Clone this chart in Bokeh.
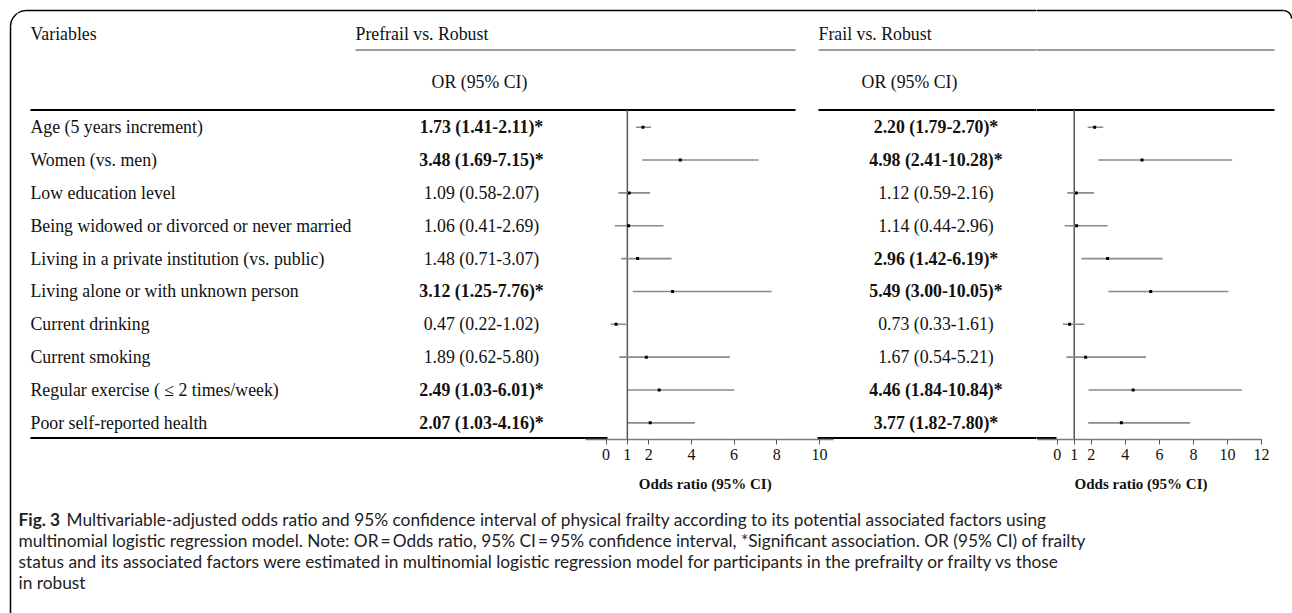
import math
from bokeh.plotting import figure
from bokeh.models import Range1d, LinearAxis, FixedTicker, ColumnDataSource
from bokeh.layouts import row, column
from bokeh.core.properties import value, field
from bokeh.embed import file_html
from bokeh.resources import INLINE

# ---------------- data ----------------
variables = [
    "Age (5 years increment)",
    "Women (vs. men)",
    "Low education level",
    "Being widowed or divorced or never married",
    "Living in a private institution (vs. public)",
    "Living alone or with unknown person",
    "Current drinking",
    "Current smoking",
    "Regular exercise ( \u2264 2  times/week)",
    "Poor self-reported health",
]
prefrail_or = [1.73, 3.48, 1.09, 1.06, 1.48, 3.12, 0.47, 1.89, 2.49, 2.07]
prefrail_lo = [1.41, 1.69, 0.58, 0.41, 0.71, 1.25, 0.22, 0.62, 1.03, 1.03]
prefrail_hi = [2.11, 7.15, 2.07, 2.69, 3.07, 7.76, 1.02, 5.80, 6.01, 4.16]
prefrail_sig = [True, True, False, False, False, True, False, False, True, True]

frail_or = [2.20, 4.98, 1.12, 1.14, 2.96, 5.49, 0.73, 1.67, 4.46, 3.77]
frail_lo = [1.79, 2.41, 0.59, 0.44, 1.42, 3.00, 0.33, 0.54, 1.84, 1.82]
frail_hi = [2.70, 10.28, 2.16, 2.96, 6.19, 10.05, 1.61, 5.21, 10.84, 7.80]
frail_sig = [True, True, False, False, True, True, False, False, True, True]

prefrail_ticks = [0, 1, 2, 4, 6, 8, 10]
frail_ticks = [0, 1, 2, 4, 6, 8, 10, 12]
null_or = 1

header_variables = "Variables"
header_prefrail = "Prefrail vs. Robust"
header_frail = "Frail vs. Robust"
header_or = "OR (95% CI)"
axis_title = "Odds ratio (95% CI)"
caption_bold = "Fig. 3"
caption_lines = [
    "Multivariable-adjusted odds ratio and 95% confidence interval of physical frailty according to its potential associated factors using",
    "multinomial logistic regression model. Note: OR\u2009=\u2009Odds ratio, 95% CI\u2009=\u200995% confidence interval, *Significant association. OR (95% CI) of frailty",
    "status and its associated factors were estimated in multinomial logistic regression model for participants in the prefrailty or frailty vs those",
    "in robust",
]

# ---------------- layout (page pixels) ----------------
SERIF = value("Liberation Serif")
SANS = value("Lato")
BODY_FS = "17.8px"
PAGE_L, PAGE_R = 0, 1292
BORDER_R = 17
TOP, AXIS_Y, BOTTOM = 0, 439, 613
SPLIT = 1036
AXIS_PANEL = 30
ROW0, ROWSTEP = 126.7, 32.85

# forest scales: page px = zero + per_unit * OR
F1_ZERO, F1_UNIT = 605.5, 21.35
F2_ZERO, F2_UNIT = 1056.7, 17.03

row_y = [ROW0 + i * ROWSTEP for i in range(len(variables))]


def label(o, l, h, s):
    return f"{o:.2f} ({l:.2f}-{h:.2f})" + ("*" if s else "")


def base_fig(x0, x1, ybot, ytop, mb_bottom=0):
    p = figure(
        x_range=Range1d(x0, x1), y_range=Range1d(ybot, ytop),
        frame_width=int(round(x1 - x0)), frame_height=int(round(ybot - ytop)),
        x_axis_type=None, y_axis_type=None,
        toolbar_location=None, output_backend="svg",
        min_border=0, min_border_left=0, min_border_right=0, min_border_top=0,
        min_border_bottom=mb_bottom,
        outline_line_color=None,
        background_fill_color="white", border_fill_color="white",
    )
    return p


def decorations(p):
    # outer rounded frame
    r1 = 16
    p.arc(x=[10 + r1], y=[10 + r1], radius=r1, start_angle=math.pi / 2,
          end_angle=math.pi, direction="anticlock", line_color="black", line_width=1.5)
    r2 = 8
    p.arc(x=[1283], y=[10 + r2], radius=r2, start_angle=0,
          end_angle=math.pi / 2, direction="anticlock", line_color="black", line_width=1.5)
    p.segment(x0=[10 + r1], x1=[1283], y0=[10], y1=[10], line_color="black", line_width=1.5)
    p.segment(x0=[10], x1=[10], y0=[10 + r1], y1=[BOTTOM], line_color="black", line_width=1.5)
    # table rules
    p.segment(x0=[355, 818], x1=[795, 1274], y0=[49.5, 49.5], y1=[49.5, 49.5],
              line_color="#3a3a3a", line_width=1)
    p.segment(x0=[30, 818], x1=[795, 1274], y0=[109.5, 109.5], y1=[109.5, 109.5],
              line_color="black", line_width=2)
    p.segment(x0=[30, 817], x1=[607, 1056], y0=[437.5, 437.5], y1=[437.5, 437.5],
              line_color="black", line_width=2)


def forest(p, rng_name, ors, los, his):
    src = ColumnDataSource(dict(o=ors, lo=los, hi=his, y=row_y))
    p.segment(x0=[null_or], x1=[null_or], y0=[109.5], y1=[AXIS_Y], x_range_name=rng_name,
              line_color="#555555", line_width=1.5)
    p.segment(x0="lo", x1="hi", y0="y", y1="y", source=src, x_range_name=rng_name,
              line_color="#8a8a8a", line_width=1.6)
    p.scatter(x="o", y="y", source=src, x_range_name=rng_name, marker="square",
              size=3, fill_color="black", line_color=None)


def add_axis(p, rng_name, ticks, bounds):
    ax = LinearAxis(x_range_name=rng_name, ticker=FixedTicker(ticks=ticks, minor_ticks=[]),
                    bounds=bounds)
    ax.axis_line_color = "#7a7a7a"
    ax.axis_line_width = 1.3
    ax.major_tick_line_color = "#555555"
    ax.major_tick_in = 0
    ax.major_tick_out = 5
    ax.minor_tick_line_color = None
    ax.major_label_text_font = "Liberation Serif"
    ax.major_label_text_font_size = "16px"
    ax.major_label_text_color = "#111111"
    ax.major_label_standoff = 4
    p.add_layout(ax, "below")


# ---------------- border strip ----------------
pb = base_fig(PAGE_L, BORDER_R, BOTTOM, TOP)
decorations(pb)

# ---------------- left table + prefrail forest ----------------
pl = base_fig(BORDER_R, SPLIT, AXIS_Y, TOP, AXIS_PANEL)
pl.extra_x_ranges = {"f1": Range1d((BORDER_R - F1_ZERO) / F1_UNIT, (SPLIT - F1_ZERO) / F1_UNIT)}
decorations(pl)

pl.text(x=[30, 355, 818], y=[33, 33, 33], text=[header_variables, header_prefrail, header_frail],
        text_font=SERIF, text_font_size=BODY_FS, text_align="left", text_baseline="middle",
        text_color="#111111")
pl.text(x=[479, 909], y=[81.7, 81.7], text=[header_or, header_or],
        text_font=SERIF, text_font_size=BODY_FS, text_align="center", text_baseline="middle",
        text_color="#111111")

var_src = ColumnDataSource(dict(x=[30] * len(variables), y=row_y, t=variables))
pl.text(x="x", y="y", text="t", source=var_src, text_font=SERIF, text_font_size=BODY_FS,
        text_align="left", text_baseline="middle", text_color="#111111")

pre_src = ColumnDataSource(dict(
    y=row_y,
    t=[label(o, l, h, s) for o, l, h, s in zip(prefrail_or, prefrail_lo, prefrail_hi, prefrail_sig)],
    st=["bold" if s else "normal" for s in prefrail_sig]))
pl.text(x=481, y="y", text="t", source=pre_src, text_font=SERIF, text_font_size=BODY_FS,
        text_font_style=field("st"), text_align="center", text_baseline="middle",
        text_color="#111111")

fr_src = ColumnDataSource(dict(
    y=row_y,
    t=[label(o, l, h, s) for o, l, h, s in zip(frail_or, frail_lo, frail_hi, frail_sig)],
    st=["bold" if s else "normal" for s in frail_sig]))
pl.text(x=935.5, y="y", text="t", source=fr_src, text_font=SERIF, text_font_size=BODY_FS,
        text_font_style=field("st"), text_align="center", text_baseline="middle",
        text_color="#111111")

forest(pl, "f1", prefrail_or, prefrail_lo, prefrail_hi)
F1_BOUNDS = ((585 - F1_ZERO) / F1_UNIT, (833 - F1_ZERO) / F1_UNIT)
add_axis(pl, "f1", prefrail_ticks, F1_BOUNDS)

# ---------------- right: frail forest ----------------
pr = base_fig(SPLIT, PAGE_R, AXIS_Y, TOP, AXIS_PANEL)
pr.extra_x_ranges = {"f2": Range1d((SPLIT - F2_ZERO) / F2_UNIT, (PAGE_R - F2_ZERO) / F2_UNIT)}
decorations(pr)
forest(pr, "f2", frail_or, frail_lo, frail_hi)
F2_BOUNDS = ((1037 - F2_ZERO) / F2_UNIT, 12)
add_axis(pr, "f2", frail_ticks, F2_BOUNDS)

# ---------------- caption (with the two axis titles) ----------------
CAP_TOP = AXIS_Y + AXIS_PANEL
pc = base_fig(BORDER_R, PAGE_R, BOTTOM, CAP_TOP)
pc.extra_x_ranges = {
    "f1": Range1d((BORDER_R - F1_ZERO) / F1_UNIT, (PAGE_R - F1_ZERO) / F1_UNIT),
    "f2": Range1d((BORDER_R - F2_ZERO) / F2_UNIT, (PAGE_R - F2_ZERO) / F2_UNIT),
}
decorations(pc)
pc.text(x=[sum(F1_BOUNDS) / 2 - 0.2], y=[483], text=[axis_title], x_range_name="f1",
        text_font=SERIF, text_font_size="15px", text_font_style="bold",
        text_align="center", text_baseline="middle", text_color="#111111")
pc.text(x=[sum(F2_BOUNDS) / 2 - 0.5], y=[483], text=[axis_title], x_range_name="f2",
        text_font=SERIF, text_font_size="15px", text_font_style="bold",
        text_align="center", text_baseline="middle", text_color="#111111")

cap_y = [519, 540, 561, 582]
pc.text(x=[18], y=[cap_y[0]], text=[caption_bold], text_font=SANS, text_font_size="17.3px",
        text_font_style="bold", text_align="left", text_baseline="middle", text_color="#222222")
pc.text(x=[66, 18, 18, 18], y=cap_y, text=caption_lines, text_font=SANS, text_font_size="17.3px",
        text_align="left", text_baseline="middle", text_color="#222222")

layout = row(pb, column(row(pl, pr, spacing=0), pc, spacing=0), spacing=0)

open("out.html", "w").write(file_html(layout, INLINE))
